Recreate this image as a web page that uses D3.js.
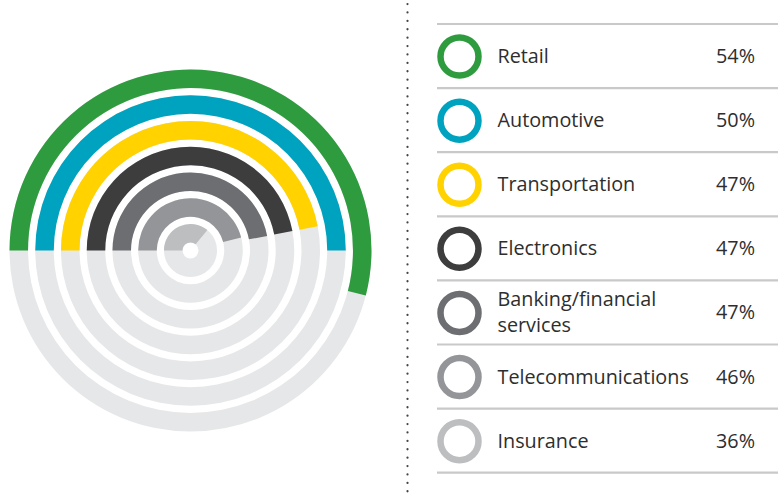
<!DOCTYPE html>
<html>
<head>
<meta charset="utf-8">
<script src="https://cdn.jsdelivr.net/npm/d3@7"></script>
<style>
  body { margin: 0; background: #fff; }
  text { font-family: "Open Sans", sans-serif; fill: #2e2e2e; }
</style>
</head>
<body>
<div id="chart"></div>
<script>
// industries, share of respondents (%)
const categories = ["Retail", "Automotive", "Transportation", "Electronics",
                    "Banking/financial services", "Telecommunications", "Insurance"];
const labelLines = [["Retail"], ["Automotive"], ["Transportation"], ["Electronics"],
                    ["Banking/financial", "services"], ["Telecommunications"], ["Insurance"]];
const values = [54, 50, 47, 47, 47, 46, 36];
const colors = ["#2e9b3e", "#00a3bf", "#ffd200", "#3d3d3e", "#6d6e71", "#939598", "#bcbec0"];

const width = 778, height = 493;
const cx = 190.5, cy = 250.5;

const svg = d3.select("#chart").append("svg")
    .attr("width", width)
    .attr("height", height);

// radial band: outermost ring = first category
const rScale = d3.scaleBand()
    .domain(categories.slice().reverse())
    .range([8, 181])
    .paddingInner(0.28)
    .paddingOuter(0);

const aScale = d3.scaleLinear()
    .domain([0, 100])
    .range([-Math.PI / 2, Math.PI * 1.5]);

const arc = d3.arc()
    .innerRadius(d => rScale(d.cat))
    .outerRadius(d => rScale(d.cat) + rScale.bandwidth());

const rows = categories.map((c, i) => ({cat: c, value: values[i], color: colors[i], lines: labelLines[i]}));

const g = svg.append("g").attr("transform", `translate(${cx},${cy})`);

// background tracks
g.selectAll(".track")
    .data(rows)
    .enter().append("path")
    .attr("class", "track")
    .attr("d", d => arc({cat: d.cat, startAngle: 0, endAngle: Math.PI * 2}))
    .attr("fill", "#e6e7e8");

// value arcs
g.selectAll(".bar")
    .data(rows)
    .enter().append("path")
    .attr("class", "bar")
    .attr("d", d => arc({cat: d.cat, startAngle: aScale(0), endAngle: aScale(d.value)}))
    .attr("fill", d => d.color);

// dotted divider
svg.append("line")
    .attr("x1", 407.5).attr("x2", 407.5)
    .attr("y1", 4).attr("y2", height)
    .attr("stroke", "#444")
    .attr("stroke-width", 2.2)
    .attr("stroke-linecap", "round")
    .attr("stroke-dasharray", "0.1 8.3");

// legend
const yScale = d3.scaleBand()
    .domain(categories)
    .range([24, 472.7]);

const rules = [24].concat(categories.map(c => yScale(c) + yScale.bandwidth()));
svg.selectAll(".rule")
    .data(rules)
    .enter().append("line")
    .attr("class", "rule")
    .attr("x1", 437).attr("x2", width)
    .attr("y1", d => d).attr("y2", d => d)
    .attr("stroke", "#c9c9c9")
    .attr("stroke-width", 2.2);

const row = svg.selectAll(".row")
    .data(rows)
    .enter().append("g")
    .attr("class", "row")
    .attr("transform", d => `translate(0,${yScale(d.cat) + yScale.bandwidth() / 2})`);

row.append("circle")
    .attr("cx", 459.5)
    .attr("cy", 0.5)
    .attr("r", 19)
    .attr("fill", "none")
    .attr("stroke", d => d.color)
    .attr("stroke-width", 6.5);

row.each(function(d) {
    const sel = d3.select(this);
    const n = d.lines.length;
    d.lines.forEach((t, j) => {
        sel.append("text")
            .attr("x", 497.5)
            .attr("y", 7 + (j - (n - 1) / 2) * 26)
            .attr("font-size", 19.8)
            .text(t);
    });
});

row.append("text")
    .attr("x", 755)
    .attr("y", 7)
    .attr("text-anchor", "end")
    .attr("font-size", 19.8)
    .text(d => d.value + "%");
</script>
</body>
</html>
